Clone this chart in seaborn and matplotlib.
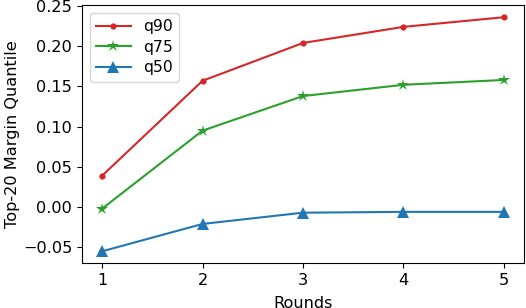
import pandas as pd
import matplotlib.pyplot as plt
import seaborn as sns

# Values
rounds = [1, 2, 3, 4, 5]
q90 = [0.039, 0.157, 0.204, 0.224, 0.236]
q75 = [-0.002, 0.095, 0.138, 0.152, 0.158]
q50 = [-0.055, -0.021, -0.007, -0.006, -0.006]

df = pd.DataFrame({"Rounds": rounds, "q90": q90, "q75": q75, "q50": q50})

plt.rcParams["font.size"] = 11.6

fig, ax = plt.subplots(figsize=(5.26, 3.08), dpi=100)
fig.subplots_adjust(left=0.156, right=0.996, top=0.983, bottom=0.146)

sns.lineplot(data=df, x="Rounds", y="q90", ax=ax, color="tab:red", marker="o",
             markersize=4.5, markeredgewidth=0, linewidth=1.5, label="q90")
sns.lineplot(data=df, x="Rounds", y="q75", ax=ax, color="tab:green", marker="*",
             markersize=9, markeredgewidth=0, linewidth=1.5, label="q75")
sns.lineplot(data=df, x="Rounds", y="q50", ax=ax, color="tab:blue", marker="^",
             markersize=8.5, markeredgewidth=0, linewidth=1.5, label="q50")

ax.set_xticks(rounds)
ax.set_ylim(-0.0696, 0.2509)
ax.set_xlabel("Rounds", labelpad=6)
ax.set_ylabel("Top-20 Margin Quantile", labelpad=2)
ax.legend(loc="upper left", fontsize=11.3, labelspacing=0.35, handlelength=2.2)

fig.savefig("out.png", dpi=100)
